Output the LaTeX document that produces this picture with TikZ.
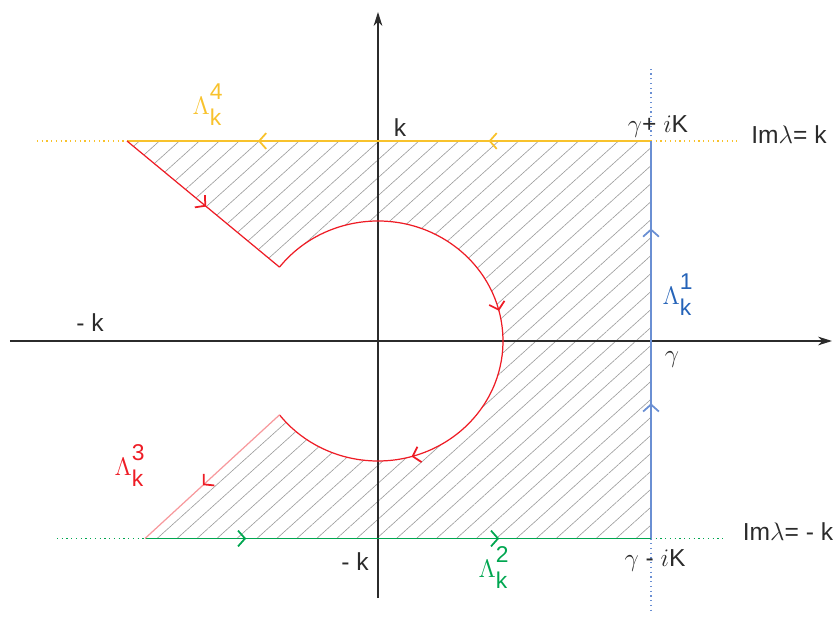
\documentclass[tikz,border=0pt]{standalone}
\usepackage{fontspec}
\setmainfont{Liberation Sans}
\usetikzlibrary{arrows.meta,decorations.markings,patterns.meta}
\definecolor{lamyellow}{HTML}{F8C22C}
\definecolor{lamblue}{HTML}{6A8FD3}
\definecolor{lamdblue}{HTML}{2563B8}
\definecolor{lamred}{HTML}{EE1C25}
\definecolor{lamgreen}{HTML}{00A650}
\definecolor{axisgray}{HTML}{2B2B2B}
\definecolor{hatchgray}{HTML}{9C9C9C}
\tikzset{
  axisline/.style={
    line width=0.6pt, draw=axisgray,
    -{Stealth[length=8pt, width=5pt]}
  },
  contour/.style={line width=0.7pt, draw=#1},
  contour/.default=lamred,
  guide/.style={line width=0.7pt, draw=#1, dotted},
  tipat/.style={
    postaction={decorate, decoration={markings,
      mark=at position #1 with {\arrow[line width=1pt]{Straight Barb[length=4pt, width=9pt]}}}}
  },
  redtipat/.style={
    postaction={decorate, decoration={markings,
      mark=at position #1 with {\arrow[lamred, line width=1pt]{Straight Barb[length=4pt, width=9pt]}}}}
  },
  hatched/.style={
    pattern={Lines[angle=42, distance=7.6pt, line width=0.35pt]},
    pattern color=hatchgray
  },
  lbl/.style={font=\fontsize{14}{16}\selectfont, text=axisgray, inner sep=1pt},
  lamlabel/.style={font=\fontsize{14}{16}\selectfont, text=#1, inner sep=1pt},
}
\newcommand{\lamk}[1]{$\Lambda^{\raisebox{3pt}{\fontsize{13}{15}\selectfont #1}}_{\raisebox{-3pt}{\fontsize{13}{15}\selectfont k}}$}

\begin{document}
\begin{tikzpicture}
  \useasboundingbox (-7.56,-5.7) rectangle (9.2,6.82);

  % corners of the contour
  \coordinate (tl) at (-5.02,4);
  \coordinate (tr) at (5.46,4);
  \coordinate (br) at (5.46,-3.95);
  \coordinate (bl) at (-4.66,-3.95);
  \coordinate (au) at (142:2.5 and 2.4);
  \coordinate (al) at (-142:2.5 and 2.4);

  % hatched region
  \fill[hatched] (tl) -- (tr) -- (br) -- (bl) -- (al)
    arc[start angle=-142, end angle=142, x radius=2.5, y radius=2.4] -- cycle;

  % axes
  \coordinate (xl) at (-7.36,0);
  \coordinate (xr) at (9.08,0);
  \coordinate (yb) at (0,-5.14);
  \coordinate (yt) at (0,6.58);
  \draw[axisline] (xl) -- (xr);
  \draw[axisline] (yb) -- (yt);

  % dotted continuations
  \coordinate (vt) at (5.46,5.46);
  \coordinate (vb) at (5.46,-5.42);
  \coordinate (ytl) at (-6.82,4);
  \coordinate (ytr) at (7.18,4);
  \coordinate (gbl) at (-6.42,-3.95);
  \coordinate (gbr) at (6.9,-3.95);
  \draw[guide=lamblue] (tr) -- (vt);
  \draw[guide=lamblue] (br) -- (vb);
  \draw[guide=lamyellow] (ytl) -- (tl);
  \draw[guide=lamyellow] (tr) -- (ytr);
  \draw[guide=lamgreen] (gbl) -- (bl);
  \draw[guide=lamgreen] (br) -- (gbr);

  % contour pieces
  \draw[contour=lamyellow, tipat=0.31, tipat=0.75] (tr) -- (tl);
  \draw[contour=lamblue, tipat=0.34, tipat=0.78] (br) -- (tr);
  \draw[contour=lamgreen, tipat=0.2, tipat=0.7] (bl) -- (br);
  \draw[contour, tipat=0.52] (tl) -- (au);
  \draw[contour, tipat=0.45, tipat=0.76] (au)
    arc[start angle=142, end angle=-142, x radius=2.5, y radius=2.4];
  \draw[contour=lamred!45, redtipat=0.57] (al) -- (bl);

  % labels
  \node[lamlabel=lamyellow] (lam4) at (-3.4,4.72) {\lamk{4}};
  \node[lamlabel=lamdblue] (lam1) at (6.0,0.92) {\lamk{1}};
  \node[lamlabel=lamred] (lam3) at (-4.96,-2.5) {\lamk{3}};
  \node[lamlabel=lamgreen] (lam2) at (2.32,-4.54) {\lamk{2}};
  \node[lbl] (ktop) at (0.44,4.26) {k};
  \node[lbl] (kleft) at (-5.76,0.36) {- k};
  \node[lbl] (kbot) at (-0.46,-4.42) {- k};
  \node[lbl] (gam) at (5.88,-0.38) {$\gamma$};
  \node[lbl] (gtop) at (5.6,4.3) {$\gamma$+ $i$K};
  \node[lbl] (gbot) at (5.54,-4.38) {$\gamma$ - $i$K};
  \node[lbl] (imtop) at (8.22,4.12) {Im$\lambda$= k};
  \node[lbl] (imbot) at (8.2,-3.82) {Im$\lambda$= - k};
\end{tikzpicture}
\end{document}
